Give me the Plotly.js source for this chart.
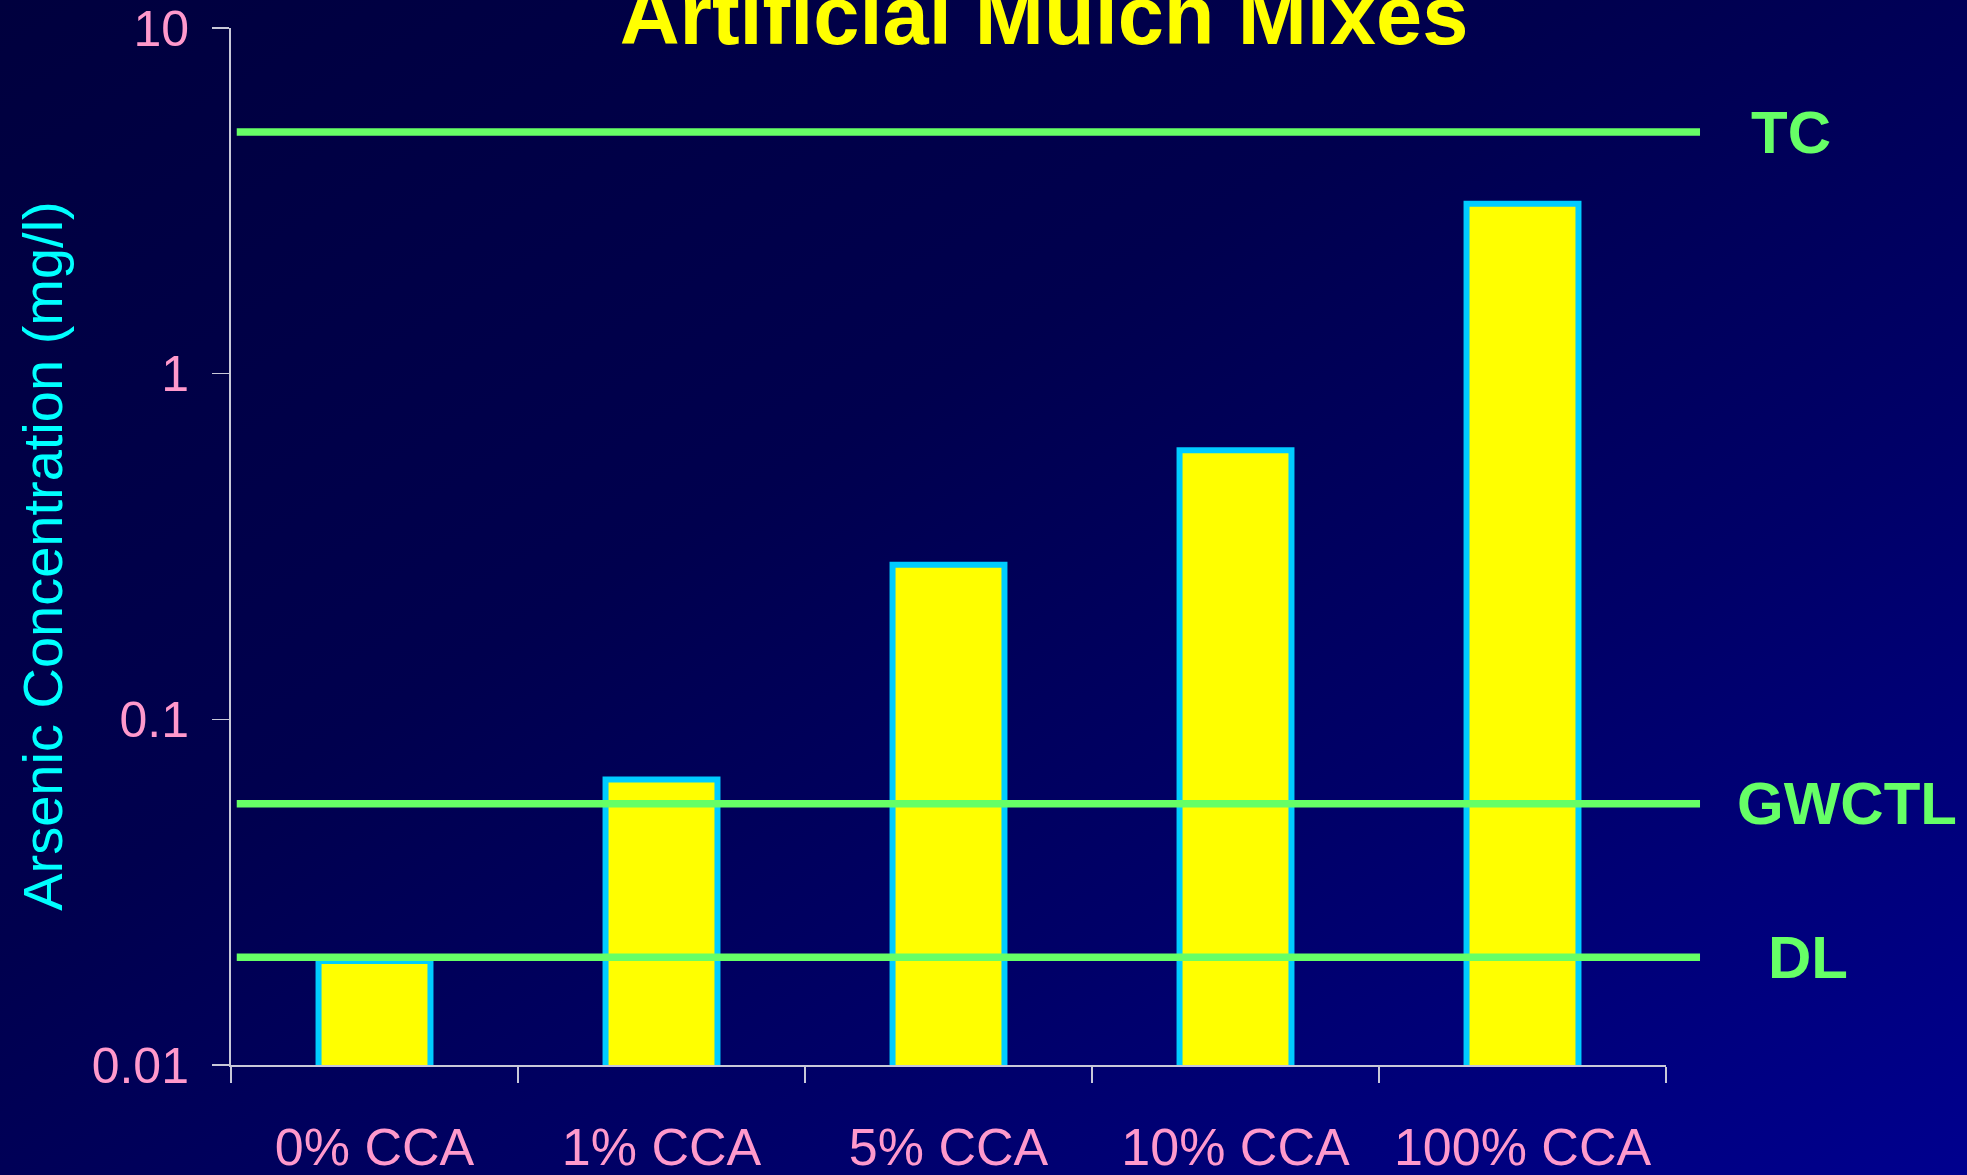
<!DOCTYPE html>
<html>
<head>
<meta charset="utf-8">
<script src="https://cdn.plot.ly/plotly-3.0.1.min.js"></script>
<style>
  html, body { margin: 0; padding: 0; width: 1967px; height: 1175px; overflow: hidden; }
  body { background: linear-gradient(to bottom right, #00003e 0%, #00004e 40%, #000068 68%, #00008e 100%); }
  #chart { width: 1967px; height: 1175px; }
</style>
</head>
<body>
<div id="chart"></div>
<script>
// ---- data ----
const categories = ['0% CCA', '1% CCA', '5% CCA', '10% CCA', '100% CCA'];
const arsenic = [0.02, 0.067, 0.28, 0.6, 3.1];
const limitNames = ['TC', 'GWCTL', 'DL'];
const limitValues = [5, 0.057, 0.0205];
const yTickVals = [0.01, 0.1, 1, 10];
const yTickText = ['0.01', '0.1', '1', '10'];
const chartTitle = 'Artificial Mulch Mixes';
const yTitle = 'Arsenic Concentration (mg/l)';

// ---- layout helpers (styling only) ----
const labelX = [1.0871, 1.1260, 1.0990];   // paper-x centres of limit labels
const green = '#66ff66';
const font = 'Liberation Sans, Arial, sans-serif';

const shapes = limitValues.map(v => ({
  type: 'line', xref: 'paper', yref: 'y',
  x0: 0.004, x1: 1.0237, y0: v, y1: v,
  line: { color: green, width: 7.5 }
}));

const annotations = limitNames.map((name, i) => ({
  xref: 'paper', yref: 'y', x: labelX[i], y: Math.log10(limitValues[i]),
  text: '<b>' + name + '</b>', showarrow: false,
  xanchor: 'center', yanchor: 'middle',
  font: { family: font, size: 60, color: green }
}));

// y-axis title placed as a rotated annotation (the axis title is clamped to the margin)
annotations.push({
  xref: 'paper', yref: 'paper', x: -0.131, y: 0.491,
  text: yTitle, textangle: -90, showarrow: false,
  xanchor: 'center', yanchor: 'middle',
  font: { family: font, size: 56, color: '#00ffff' }
});

const trace = {
  type: 'bar', x: categories, y: arsenic,
  marker: { color: '#ffff00', line: { color: '#00ccff', width: 6 } },
  hoverinfo: 'x+y'
};

const layout = {
  width: 1967, height: 1175,
  paper_bgcolor: 'rgba(0,0,0,0)', plot_bgcolor: 'rgba(0,0,0,0)',
  margin: { l: 231, r: 301, t: 28, b: 110, pad: 0 },
  showlegend: false,
  bargap: 0.61,
  title: {
    text: '<b>' + chartTitle + '</b>',
    x: 1044 / 1967, xanchor: 'center', xref: 'container',
    y: 0.987, yanchor: 'middle', yref: 'container',
    font: { family: font, size: 83, color: '#ffff00' }
  },
  xaxis: {
    type: 'category', tickson: 'boundaries',
    ticks: 'outside', ticklen: 16, tickwidth: 1.5, tickcolor: '#c8c8d8',
    showline: true, linecolor: '#c8c8d8', linewidth: 2,
    showgrid: false, zeroline: false,
    ticklabelstandoff: 36,
    tickfont: { family: font, size: 52, color: '#ff99cc' }
  },
  yaxis: {
    type: 'log', range: [-2, 1],
    tickmode: 'array', tickvals: yTickVals, ticktext: yTickText,
    ticks: 'outside', ticklen: 17, tickwidth: 1.5, tickcolor: '#c8c8d8',
    showline: true, linecolor: '#c8c8d8', linewidth: 2,
    showgrid: false, zeroline: false,
    ticklabelstandoff: 13,
    tickfont: { family: font, size: 50, color: '#ff99cc' }
  },
  shapes: shapes,
  annotations: annotations
};

Plotly.newPlot('chart', [trace], layout, { displayModeBar: false, staticPlot: true });
</script>
</body>
</html>
